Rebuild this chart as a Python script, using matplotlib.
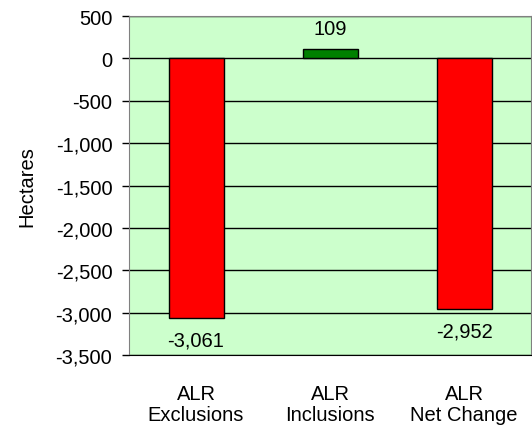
import matplotlib.pyplot as plt
from matplotlib.ticker import FuncFormatter

categories = ['ALR\nExclusions', 'ALR\nInclusions', 'ALR\nNet Change']
values = [-3061, 109, -2952]
colors = ['#FF0000', '#008000', '#FF0000']
yticks = list(range(-3500, 501, 500))

plt.rcParams['font.family'] = ['Liberation Sans', 'DejaVu Sans']
fs = 14.5

fig = plt.figure(figsize=(5.32, 4.27), dpi=100)
ax = fig.add_axes([0.2425, 0.166, 0.756, 0.794])
ax.set_facecolor('#CCFFCC')

x = range(len(categories))
bars = ax.bar(x, values, width=0.41, color=colors, edgecolor='black', linewidth=1, zorder=3)

for b, v in zip(bars, values):
    if v >= 0:
        ax.annotate(f'{v:,}', (b.get_x() + b.get_width() / 2, v), xytext=(0, 8),
                    textcoords='offset points', ha='center', va='bottom', fontsize=fs)
    else:
        ax.annotate(f'{v:,}', (b.get_x() + b.get_width() / 2, v), xytext=(0, -9),
                    textcoords='offset points', ha='center', va='top', fontsize=fs)

ax.set_xlim(-0.5, 2.5)
ax.set_ylim(-3500, 500)
ax.set_yticks(yticks)
ax.yaxis.set_major_formatter(FuncFormatter(lambda v, p: f'{int(v):,}'))
ax.set_xticks(list(x))
ax.set_xticklabels(categories, fontsize=fs, linespacing=1.1)
ax.tick_params(axis='x', length=0, pad=21)
ax.tick_params(axis='y', length=5, width=1, labelsize=fs, pad=7)
ax.grid(axis='y', color='black', linewidth=1, zorder=1)
ax.set_axisbelow(True)
for s in ax.spines.values():
    s.set_color('#808080')
ax.spines['bottom'].set_color('black')
ax.set_ylabel('Hectares', fontsize=fs, labelpad=14)

fig.savefig('out.png', dpi=100)
